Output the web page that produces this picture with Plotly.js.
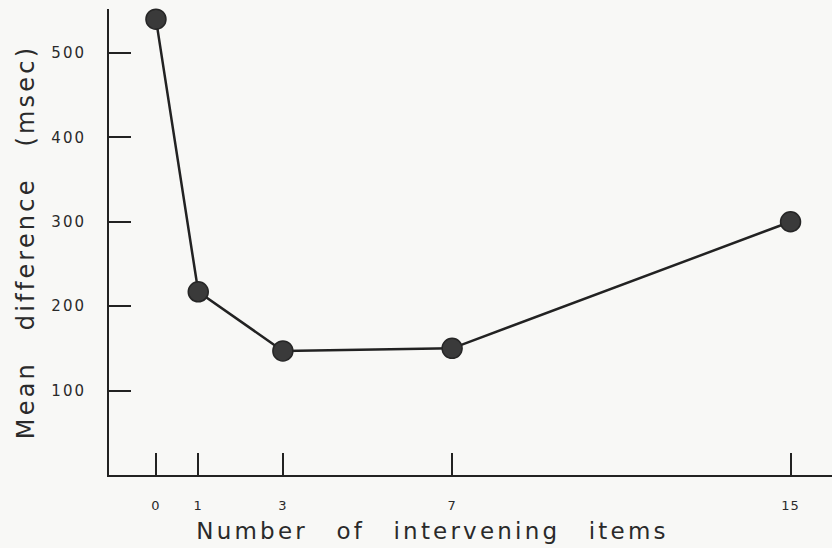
<!DOCTYPE html>
<html>
<head>
<meta charset="utf-8">
<script src="https://cdn.plot.ly/plotly-3.0.1.min.js"></script>
<style>
  html, body { margin: 0; padding: 0; background: #f8f8f6; }
  #chart { width: 832px; height: 548px; }
  .g-xtitle { transform: translateX(-38px); }
  .g-xtitle text { letter-spacing: 3.2px; word-spacing: 18px; }
  .g-ytitle text { letter-spacing: 3.2px; word-spacing: 20px; }
  .ytick text { letter-spacing: 2px; }
  .xtick text { letter-spacing: 1px; }
</style>
</head>
<body>
<div id="chart"></div>
<script>
// Data
const intervening = [0, 1, 3, 7, 15];
const meanDiff = [540, 217, 147, 150, 300];
const xTickVals = [0, 1, 3, 7, 15];
const xTickText = ["0", "1", "3", "7", "15"];
const yTickVals = [100, 200, 300, 400, 500];
const yTickText = ["100", "200", "300", "400", "500"];

const trace = {
  x: intervening,
  y: meanDiff,
  mode: 'lines+markers',
  type: 'scatter',
  line: { color: '#222222', width: 2.5 },
  marker: { size: 20, color: '#3a3a3a', line: { color: '#262626', width: 1.5 } },
  cliponaxis: false,
  hoverinfo: 'skip'
};

const layout = {
  width: 832,
  height: 548,
  margin: { l: 109, r: 0, t: 9, b: 73 },
  paper_bgcolor: '#f8f8f6',
  plot_bgcolor: '#f8f8f6',
  showlegend: false,
  font: { family: 'DejaVu Sans, sans-serif', color: '#2a2a2a' },
  xaxis: {
    range: [-1.11, 15.98],
    tickmode: 'array',
    tickvals: xTickVals,
    ticktext: xTickText,
    ticks: 'inside',
    ticklen: 22,
    tickwidth: 2,
    tickcolor: '#222222',
    ticklabelstandoff: 17,
    tickfont: { size: 13, color: '#2a2a2a' },
    showline: true,
    linecolor: '#222222',
    linewidth: 2,
    showgrid: false,
    zeroline: false,
    title: {
      text: 'Number of intervening items',
      font: { size: 23, color: '#2a2a2a' },
      standoff: 11
    }
  },
  yaxis: {
    range: [0, 552],
    tickmode: 'array',
    tickvals: yTickVals,
    ticktext: yTickText,
    ticks: 'inside',
    ticklen: 22,
    tickwidth: 2,
    tickcolor: '#222222',
    ticklabelstandoff: 18,
    tickfont: { size: 15, color: '#2a2a2a' },
    showline: true,
    linecolor: '#222222',
    linewidth: 2,
    showgrid: false,
    zeroline: false,
    title: {
      text: 'Mean difference (msec)',
      font: { size: 24, color: '#2a2a2a' },
      standoff: 10
    }
  }
};

Plotly.newPlot('chart', [trace], layout, { displayModeBar: false, staticPlot: true });
</script>
</body>
</html>
